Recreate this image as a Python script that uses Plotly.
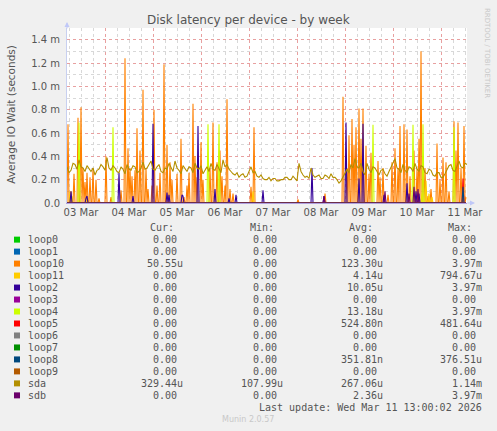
import numpy as np
import pandas as pd
import plotly.graph_objects as go

# devices in munin order, with the munin palette
names = ["loop0", "loop1", "loop10", "loop11", "loop2", "loop3", "loop4",
         "loop5", "loop6", "loop7", "loop8", "loop9", "sda", "sdb"]
colors = ["#00CC00", "#0066B3", "#FF8000", "#FFCC00", "#330099", "#990099", "#CCFF00",
          "#FF0000", "#808080", "#008F00", "#00487D", "#B35A00", "#B38F00", "#6B006B"]

# legend statistics (text as printed)
cur = ["0.00", "0.00", "50.55u", "0.00", "0.00", "0.00", "0.00",
       "0.00", "0.00", "0.00", "0.00", "0.00", "329.44u", "0.00"]
mins = ["0.00", "0.00", "0.00", "0.00", "0.00", "0.00", "0.00",
        "0.00", "0.00", "0.00", "0.00", "0.00", "107.99u", "0.00"]
avgs = ["0.00", "0.00", "123.30u", "4.14u", "10.05u", "0.00", "13.18u",
        "524.80n", "0.00", "0.00", "351.81n", "0.00", "267.06u", "2.36u"]
maxs = ["0.00", "0.00", "3.97m", "794.67u", "3.97m", "0.00", "3.97m",
        "481.64u", "0.00", "0.00", "376.51u", "0.00", "1.14m", "3.97m"]

# 30 minute samples, week graph
start = "2026-03-03 05:00"
end = "2026-03-11 13:00"
n_slots = 400

# sda every hour (ms)
sda_ms = [0.31, 0.26, 0.28, 0.34, 0.33, 0.29, 0.37, 0.31, 0.30, 0.27,
          0.32, 0.29, 0.27, 0.30, 0.24, 0.28, 0.29, 0.33, 0.31, 0.28,
          0.39, 0.30, 0.28, 0.32, 0.30, 0.27, 0.26, 0.31, 0.29, 0.25,
          0.33, 0.29, 0.28, 0.32, 0.31, 0.26, 0.27, 0.30, 0.35, 0.29,
          0.30, 0.33, 0.36, 0.29, 0.28, 0.31, 0.33, 0.27, 0.26, 0.30,
          0.29, 0.34, 0.31, 0.27, 0.36, 0.30, 0.28, 0.25, 0.32, 0.29,
          0.27, 0.31, 0.30, 0.26, 0.34, 0.30, 0.29, 0.32, 0.25, 0.28,
          0.31, 0.27, 0.34, 0.29, 0.28, 0.33, 0.30, 0.26, 0.37, 0.31,
          0.33, 0.29, 0.27, 0.25, 0.24, 0.26, 0.22, 0.24, 0.25, 0.22,
          0.23, 0.27, 0.31, 0.26, 0.27, 0.23, 0.22, 0.24, 0.21, 0.20,
          0.20, 0.22, 0.19, 0.21, 0.21, 0.19, 0.19, 0.20, 0.20, 0.22,
          0.22, 0.20, 0.20, 0.23, 0.21, 0.19, 0.34, 0.27, 0.24, 0.22,
          0.23, 0.21, 0.30, 0.24, 0.22, 0.23, 0.24, 0.21, 0.21, 0.24,
          0.23, 0.21, 0.25, 0.22, 0.22, 0.20, 0.17, 0.19, 0.22, 0.25,
          0.29, 0.26, 0.33, 0.30, 0.38, 0.31, 0.30, 0.34, 0.27, 0.24,
          0.34, 0.29, 0.26, 0.31, 0.30, 0.27, 0.24, 0.28, 0.29, 0.25,
          0.23, 0.27, 0.31, 0.35, 0.38, 0.30, 0.29, 0.26, 0.33, 0.28,
          0.26, 0.31, 0.30, 0.27, 0.34, 0.29, 0.27, 0.32, 0.31, 0.26,
          0.25, 0.29, 0.28, 0.24, 0.23, 0.26, 0.26, 0.22, 0.22, 0.25,
          0.29, 0.32, 0.33, 0.28, 0.27, 0.31, 0.36, 0.31, 0.30, 0.34,
          0.33]

# spiky devices: sample slot (half hours from start) and value (ms)
loop10_slot = [1, 4, 7, 11, 14, 16, 18, 20, 23, 26, 29, 32, 39, 44, 54, 58, 61, 63, 65, 68,
               70, 73, 76, 79, 81, 85, 87, 90, 93, 97, 100, 103, 105, 110, 114, 117, 120, 122,
               126, 128, 130, 134, 136, 143, 146, 150, 153, 155, 158, 160, 163, 166, 184, 187,
               231, 258, 276, 280, 282, 285, 287, 289, 292, 294, 296, 299, 302, 304, 311, 313,
               316, 321, 325, 328, 331, 333, 337, 340, 343, 347, 350, 352, 354, 356, 358, 361,
               364, 370, 373, 376, 379, 382, 387, 389, 391, 394, 397, 399]
loop10_ms = [0.675, 0.10, 0.25, 0.73, 0.82, 0.30, 0.18, 0.26, 0.22, 0.30, 0.20, 0.04, 0.40, 0.05,
             0.11, 1.24, 0.47, 0.30, 0.23, 0.28, 0.64, 0.45, 0.97, 0.30, 0.12, 0.15, 0.80, 0.15,
             0.26, 1.19, 0.50, 0.35, 0.20, 0.25, 0.55, 0.05, 0.15, 0.26, 0.85, 0.40, 0.22, 0.52,
             0.20, 0.30, 0.69, 0.35, 0.45, 0.23, 0.15, 0.89, 0.12, 0.08, 0.14, 0.65, 0.03, 0.08,
             0.91, 0.30, 0.58, 0.72, 0.50, 0.65, 0.81, 0.55, 0.81, 0.49, 0.25, 0.43, 0.36, 0.22,
             0.30, 0.07, 0.35, 0.47, 0.30, 0.66, 0.675, 0.63, 0.23, 0.45, 0.29, 0.55, 1.30, 0.40,
             0.30, 0.06, 0.12, 0.51, 0.20, 0.39, 0.35, 0.10, 0.70, 0.45, 0.69, 0.30, 0.66, 0.05]

loop11_slot = [3, 5, 20, 186, 355, 359, 362, 365]
loop11_ms = [0.10, 0.06, 0.05, 0.10, 0.08, 0.19, 0.08, 0.05]

loop2_slot = [4, 19, 20, 52, 66, 86, 100, 102, 115, 116, 131, 148, 162, 169, 196, 245,
              257, 279, 292, 296, 317, 340, 349, 352]
loop2_ms = [0.10, 0.04, 0.06, 0.26, 0.06, 0.68, 0.09, 0.07, 0.07, 0.06, 0.66, 0.12, 0.04,
            0.07, 0.11, 0.30, 0.06, 0.69, 0.21, 0.68, 0.07, 0.17, 0.10, 0.08]

loop4_slot = [12, 46, 141, 152, 306, 346, 356, 387]
loop4_ms = [0.69, 0.65, 0.675, 0.675, 0.67, 0.67, 0.675, 0.65]

loop5_slot = [396]
loop5_ms = [0.21]

loop8_slot = [396]
loop8_ms = [0.14]

sdb_slot = [257, 318, 342, 347, 351]
sdb_ms = [0.06, 0.10, 0.08, 0.14, 0.12]

t = pd.date_range(start, periods=n_slots, freq="30min")
t_sda = pd.date_range(start, periods=len(sda_ms), freq="1h")


def series(slots=(), vals=()):
    y = np.zeros(n_slots)
    y[list(slots)] = vals
    return y / 1000.0


spiky = {
    "loop10": (loop10_slot, loop10_ms),
    "loop11": (loop11_slot, loop11_ms),
    "loop2": (loop2_slot, loop2_ms),
    "loop4": (loop4_slot, loop4_ms),
    "loop5": (loop5_slot, loop5_ms),
    "loop8": (loop8_slot, loop8_ms),
    "sdb": (sdb_slot, sdb_ms),
}

fig = go.Figure()
for name, col in zip(names, colors):
    if name == "sda":
        x, y = t_sda, np.array(sda_ms) / 1000.0
    else:
        x, y = t, series(*spiky.get(name, ((), ())))
    fig.add_trace(go.Scatter(x=x, y=y, mode="lines", name=name,
                             line=dict(color=col, width=1.1), showlegend=False))

grey = "#555555"
yticks = [0, 0.0002, 0.0004, 0.0006, 0.0008, 0.0010, 0.0012, 0.0014]
ytext = ["0.0", "0.2 m", "0.4 m", "0.6 m", "0.8 m", "1.0 m", "1.2 m", "1.4 m"]

fig.update_layout(
    width=497, height=431,
    margin=dict(l=67, r=30, t=28, b=228),
    paper_bgcolor="#F0F0F0", plot_bgcolor="white",
    font=dict(family="DejaVu Sans", size=10, color=grey),
    xaxis=dict(type="date", range=[start, end], tick0="2026-03-03", dtick=86400000,
               ticklabelmode="period", tickformat="%d %b", ticks="",
               showgrid=True, gridcolor="#E8A0A0", griddash="dot", gridwidth=1,
               minor=dict(dtick=6 * 3600000, showgrid=True, gridcolor="#D8D8D8", griddash="dot"),
               showline=True, linecolor="#B0A0E0", linewidth=1, zeroline=False,
               tickfont=dict(size=10, color=grey)),
    yaxis=dict(range=[0, 0.0015], tickvals=yticks, ticktext=ytext,
               ticks="outside", ticklen=4, tickcolor="rgba(0,0,0,0)",
               showgrid=True, gridcolor="#E8A0A0", griddash="dot", gridwidth=1,
               minor=dict(dtick=0.0001, showgrid=True, gridcolor="#D8D8D8", griddash="dot"),
               showline=True, linecolor="#C8D0F0", linewidth=1, zeroline=False,
               tickfont=dict(size=10, color=grey)),
)


def px_x(x):
    return (x - 67) / 400.0


def px_y(y):
    return (203.3 - y) / 175.3


ann = []
ann.append(dict(text="Disk latency per device - by week", x=px_x(248), y=px_y(20),
                font=dict(size=12, color=grey)))
ann.append(dict(text="Average IO Wait (seconds)", x=px_x(11), y=px_y(114),
                textangle=-90, font=dict(size=10.5, color=grey)))
ann.append(dict(text="RRDTOOL / TOBI OETIKER", x=px_x(487), y=px_y(53),
                textangle=90, font=dict(size=7, color="#C8C8C8")))
# axis arrows
ann.append(dict(text="", x=px_x(475), y=0, ax=-9, ay=0, showarrow=True, arrowhead=2,
                arrowsize=1, arrowwidth=1, arrowcolor="#C0C8F8"))
ann.append(dict(text="", x=0, y=px_y(22), ax=0, ay=8, showarrow=True, arrowhead=2,
                arrowsize=1, arrowwidth=1, arrowcolor="#C0C8F8"))

mono = dict(family="DejaVu Sans Mono", size=10, color=grey)
for head, hx in zip(["Cur:", "Min:", "Avg:", "Max:"], [148, 247.7, 346.7, 445.7]):
    ann.append(dict(text=head, x=px_x(hx), y=px_y(227.7), xanchor="left", font=mono))

shapes = []
col_right = [185.3, 285.3, 385.3, 483.7]
for i, name in enumerate(names):
    ry = 240 + 12 * i
    shapes.append(dict(type="rect", xref="paper", yref="paper",
                       x0=px_x(14), x1=px_x(20), y0=px_y(ry + 3), y1=px_y(ry - 3),
                       fillcolor=colors[i], line=dict(width=0)))
    ann.append(dict(text=name, x=px_x(25.5), y=px_y(ry), xanchor="left", font=mono))
    for vals, rx in zip([cur, mins, avgs, maxs], col_right):
        v = vals[i]
        if v[-1].isdigit():
            v = v + "\u00a0"
        ann.append(dict(text=v, x=px_x(rx), y=px_y(ry), xanchor="right", font=mono))

ann.append(dict(text="Last update: Wed Mar 11 13:00:02 2026", x=px_x(483.7), y=px_y(407.7),
                xanchor="right", font=mono))
ann.append(dict(text="Munin 2.0.57", x=px_x(248), y=px_y(420),
                font=dict(family="DejaVu Sans", size=8, color="#C8C8C8")))

for a in ann:
    a.setdefault("xref", "paper")
    a.setdefault("yref", "paper")
    a.setdefault("showarrow", False)
    a.setdefault("yanchor", "middle")
    a.setdefault("xanchor", "center")

fig.update_layout(annotations=ann, shapes=shapes)

fig.write_html("out.html", config={"displayModeBar": False},
               post_script="document.body.style.margin='0';")
